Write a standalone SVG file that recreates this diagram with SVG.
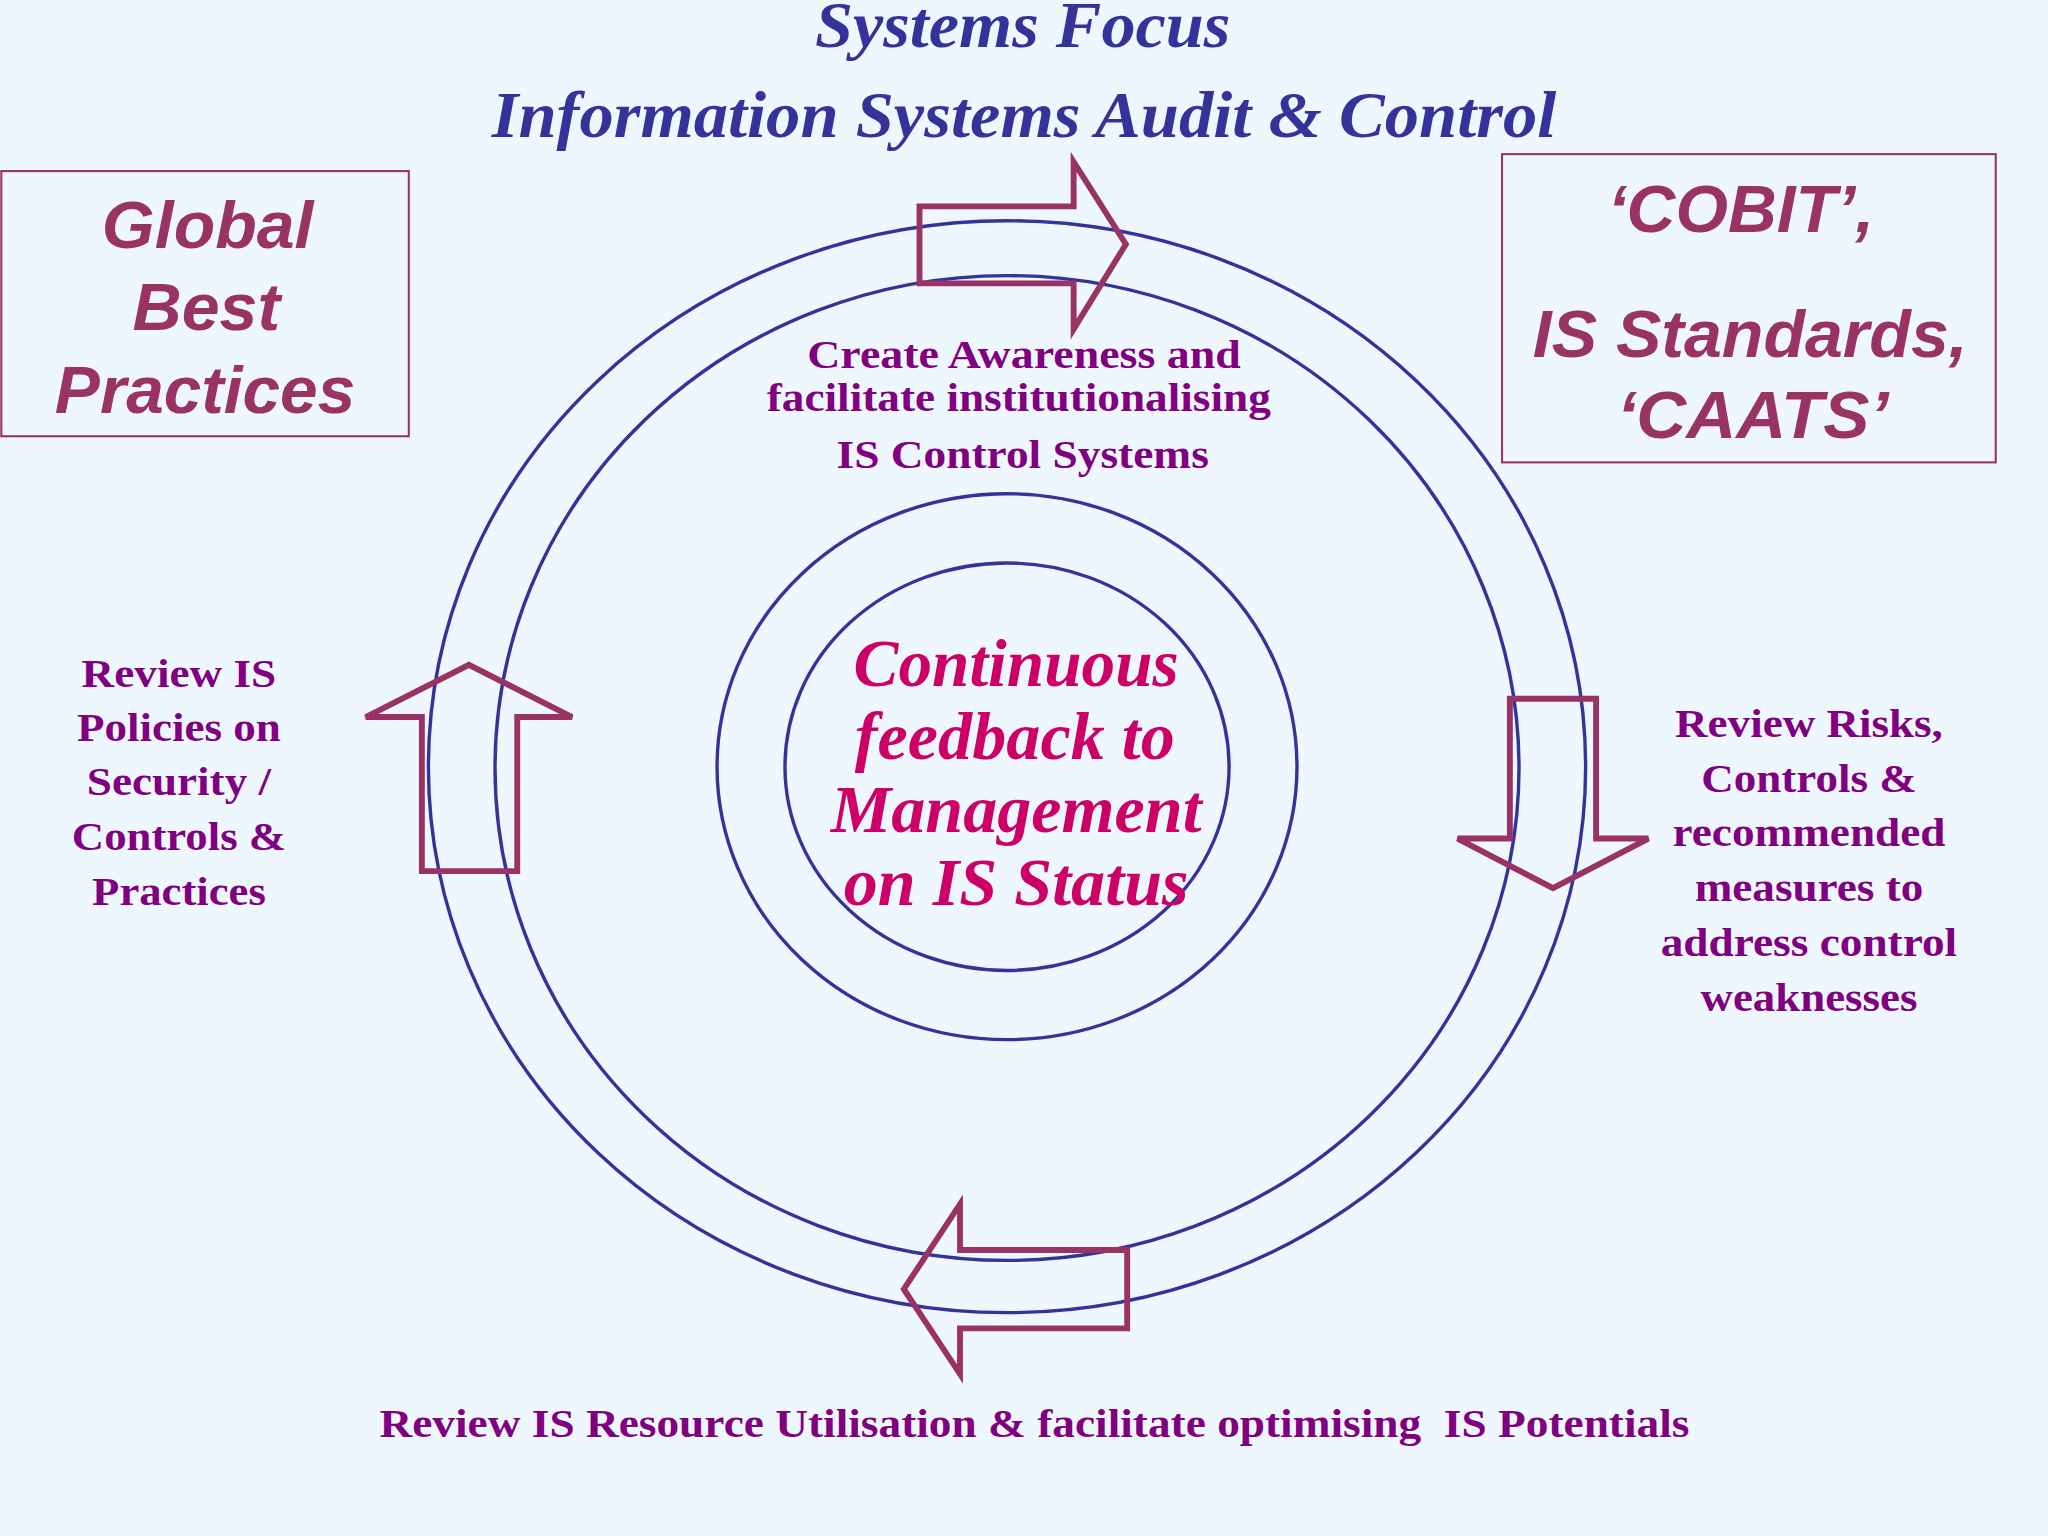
<svg xmlns="http://www.w3.org/2000/svg" width="2048" height="1536" viewBox="0 0 2048 1536">
<style>
.title{font-family:"Liberation Serif",serif;font-weight:bold;font-style:italic;font-size:50px;fill:#333399;text-anchor:middle}
.box{fill:none;stroke:#993366;stroke-width:1.6}
.boxt{font-family:"Liberation Sans",sans-serif;font-weight:bold;font-style:italic;font-size:51px;fill:#993366;text-anchor:middle}
.ring{fill:none;stroke:#333399;stroke-width:2.6}
.arr{fill:none;stroke:#993366;stroke-width:4.5;stroke-linejoin:miter}
.lab{font-family:"Liberation Serif",serif;font-weight:bold;font-size:31px;fill:#800080;text-anchor:middle}
.ctr{font-family:"Liberation Serif",serif;font-weight:bold;font-style:italic;font-size:51px;fill:#CC0066;text-anchor:middle}
</style>
<rect width="2048" height="1536" fill="#EEF7FE"/>
<g transform="scale(1.306122)">
<g id="title">
<text class="title" x="783" y="36" textLength="318" lengthAdjust="spacingAndGlyphs">Systems Focus</text>
<text class="title" x="784" y="105" textLength="815" lengthAdjust="spacingAndGlyphs">Information Systems Audit &amp; Control</text>
</g>
<g id="global">
<rect class="box" x="1" y="131" width="312" height="203"/>
<text class="boxt" x="159" y="190" textLength="162" lengthAdjust="spacingAndGlyphs">Global</text>
<text class="boxt" x="158" y="253" textLength="113" lengthAdjust="spacingAndGlyphs">Best</text>
<text class="boxt" x="157" y="316" textLength="230" lengthAdjust="spacingAndGlyphs">Practices</text>
</g>
<g id="cobit">
<rect class="box" x="1150" y="118" width="378" height="236"/>
<text class="boxt" x="1333" y="178" textLength="204" lengthAdjust="spacingAndGlyphs">‘COBIT’,</text>
<text class="boxt" x="1340" y="273" textLength="333" lengthAdjust="spacingAndGlyphs">IS Standards,</text>
<text class="boxt" x="1342" y="335" textLength="208" lengthAdjust="spacingAndGlyphs">‘CAATS’</text>
</g>
<g id="rings">
<ellipse class="ring" cx="771" cy="587" rx="443" ry="418"/>
<ellipse class="ring" cx="771" cy="588" rx="392" ry="377"/>
<ellipse class="ring" cx="771" cy="587" rx="222" ry="209"/>
<ellipse class="ring" cx="771" cy="587" rx="170" ry="156"/>
</g>
<g id="connectors">
<polygon class="arr" points="704,158 822,158 822,124 862,187 822,252 822,217 704,217"/>
<polygon class="arr" points="1156,535 1222,535 1222,642 1262,642 1189,680 1116,642 1156,642"/>
<polygon class="arr" points="863,957 735,957 735,922 692,987 735,1052 735,1017 863,1017"/>
<polygon class="arr" points="323,667 323,549 280,549 359,509 438,549 396,549 396,667"/>
</g>
<g id="center">
<text class="ctr" x="778" y="525" textLength="249" lengthAdjust="spacingAndGlyphs">Continuous</text>
<text class="ctr" x="777" y="581" textLength="245" lengthAdjust="spacingAndGlyphs">feedback to</text>
<text class="ctr" x="778" y="637" textLength="284" lengthAdjust="spacingAndGlyphs">Management</text>
<text class="ctr" x="778" y="693" textLength="264" lengthAdjust="spacingAndGlyphs">on IS Status</text>
</g>
<g id="top-label">
<text class="lab" x="784" y="282" textLength="332" lengthAdjust="spacingAndGlyphs">Create Awareness and</text>
<text class="lab" x="780" y="315" textLength="386" lengthAdjust="spacingAndGlyphs">facilitate institutionalising</text>
<text class="lab" x="783" y="358" textLength="285" lengthAdjust="spacingAndGlyphs">IS Control Systems</text>
</g>
<g id="left-label">
<text class="lab" x="137" y="526" textLength="149" lengthAdjust="spacingAndGlyphs">Review IS</text>
<text class="lab" x="137" y="567" textLength="156" lengthAdjust="spacingAndGlyphs">Policies on</text>
<text class="lab" x="137" y="609" textLength="141" lengthAdjust="spacingAndGlyphs">Security /</text>
<text class="lab" x="137" y="651" textLength="164" lengthAdjust="spacingAndGlyphs">Controls &amp;</text>
<text class="lab" x="137" y="693" textLength="133" lengthAdjust="spacingAndGlyphs">Practices</text>
</g>
<g id="right-label">
<text class="lab" x="1385" y="564" textLength="205" lengthAdjust="spacingAndGlyphs">Review Risks,</text>
<text class="lab" x="1385" y="606" textLength="165" lengthAdjust="spacingAndGlyphs">Controls &amp;</text>
<text class="lab" x="1385" y="648" textLength="209" lengthAdjust="spacingAndGlyphs">recommended</text>
<text class="lab" x="1385" y="690" textLength="175" lengthAdjust="spacingAndGlyphs">measures to</text>
<text class="lab" x="1385" y="732" textLength="227" lengthAdjust="spacingAndGlyphs">address control</text>
<text class="lab" x="1385" y="774" textLength="166" lengthAdjust="spacingAndGlyphs">weaknesses</text>
</g>
<g id="bottom-label">
<text class="lab" x="792" y="1100" textLength="1003" lengthAdjust="spacingAndGlyphs" xml:space="preserve">Review IS Resource Utilisation &amp; facilitate optimising  IS Potentials</text>
</g>
</g>
</svg>
